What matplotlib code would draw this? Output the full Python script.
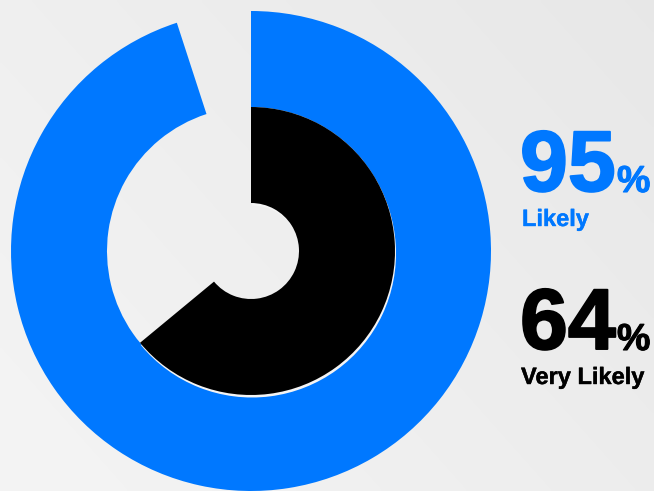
import numpy as np
import matplotlib
matplotlib.use("Agg")
import matplotlib.pyplot as plt
import matplotlib.patheffects as pe

# data
likely_pct = 95
very_likely_pct = 64
labels = ["Likely", "Very Likely"]
blue = "#0078ff"

W, H = 654, 491
fig = plt.figure(figsize=(W / 100, H / 100), dpi=100)
ax = fig.add_axes([0, 0, 1, 1])

# light gray background gradient
xx, yy = np.meshgrid(np.linspace(0, 1, 200), np.linspace(0, 1, 150))
bg = 0.955 - 0.05 * (0.6 * xx + 0.4 * (1 - yy))
ax.imshow(bg, extent=(0, W, 0, H), cmap="gray", vmin=0, vmax=1,
          aspect="auto", zorder=0, interpolation="bilinear")

cx, cy = 251, H - 251

# outer ring: 95%
ax.pie([likely_pct, 100 - likely_pct], colors=[blue, "none"], radius=240,
       center=(cx, cy), startangle=90, counterclock=False,
       wedgeprops=dict(width=96, linewidth=0), frame=True)

# faint shadow under the inner ring
ax.pie([very_likely_pct, 100 - very_likely_pct], colors=["#f4f4f4", "none"],
       radius=144, center=(cx + 1, cy - 2.5), startangle=90, counterclock=False,
       wedgeprops=dict(width=96, linewidth=0), frame=True)

# inner ring: 64%
ax.pie([very_likely_pct, 100 - very_likely_pct], colors=["black", "none"],
       radius=144, center=(cx, cy), startangle=90, counterclock=False,
       wedgeprops=dict(width=96, linewidth=0), frame=True)

ax.set_xlim(0, W)
ax.set_ylim(0, H)
ax.set_aspect("equal", adjustable="box")
ax.axis("off")

font = "Liberation Sans"


def big(x, y, s, c, size, lw):
    ax.text(x, H - y, s, color=c, fontsize=size, fontweight="bold", family=font,
            ha="left", va="baseline",
            path_effects=[pe.withStroke(linewidth=lw, foreground=c)])


big(520, 191, str(likely_pct), blue, 62, 1.4)
big(617, 192, "%", blue, 27, 0.8)
big(522, 226, labels[0], blue, 17, 0.3)

big(520, 349, str(very_likely_pct), "black", 62, 1.4)
big(617, 350, "%", "black", 27, 0.8)
big(521, 384, labels[1], "black", 17, 0.3)

fig.savefig("out.png", dpi=100)
